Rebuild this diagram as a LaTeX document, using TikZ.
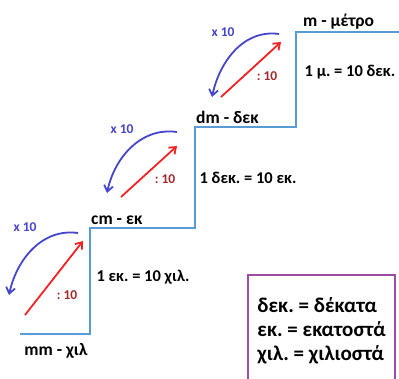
\documentclass[tikz,border=0pt]{standalone}
\usepackage{fontspec}
\setmainfont{Carlito}
\usetikzlibrary{arrows.meta,positioning}
\definecolor{stairblue}{HTML}{5B9BD5}
\definecolor{arcblue}{HTML}{4646CC}
\definecolor{arrred}{HTML}{F42222}
\definecolor{numred}{HTML}{A3282C}
\definecolor{boxpurple}{HTML}{9A4DA3}
\frenchspacing

\begin{document}
\begin{tikzpicture}[x=1pt, y=1pt,
    stair/.style={draw=stairblue, line width=1.4pt},
    unit/.style={font=\fontsize{17.5}{19}\selectfont\bfseries, inner sep=1pt},
    rel/.style={font=\fontsize{16.5}{18}\selectfont\bfseries, inner sep=1pt},
    div/.style={-{Straight Barb[length=6pt,width=9pt]}, draw=arrred, line width=1.8pt},
    mul/.style={-{Straight Barb[length=6pt,width=9pt]}, draw=arcblue, line width=1.8pt},
    divlbl/.style={text=numred, font=\fontsize{13.5}{15}\selectfont\bfseries, inner sep=0pt},
    mullbl/.style={text=arcblue, font=\fontsize{13.5}{15}\selectfont\bfseries, inner sep=0pt},
    legend/.style={draw=boxpurple, line width=2pt, align=left, anchor=north west,
      minimum width=147pt, minimum height=112pt,
      font=\fontsize{21}{24}\selectfont\bfseries}
  ]
    \useasboundingbox (0,0) rectangle (399,378);
    % the steps
    \coordinate (s0) at (20,44);
    \coordinate (s1) at (90,44);
    \coordinate (s2) at (90,150);
    \coordinate (s3) at (195,150);
    \coordinate (s4) at (195,251);
    \coordinate (s5) at (296,251);
    \coordinate (s6) at (296,346);
    \coordinate (s7) at (401,346);
    \draw[stair] (s0) -- (s1) -- (s2) -- (s3) -- (s4) -- (s5) -- (s6) -- (s7);

    \node[unit] (mm) at (56,27) {mm - χιλ};
    \node[unit, above right=2pt and 0pt of s2] (cm) {cm - εκ};
    \node[unit, above right=2pt and 0pt of s4] (dm) {dm - δεκ};
    \node[unit, above right=2pt and 6pt of s6] (m) {m - μέτρο};

    \node[rel] (r1) at (143,101) {1 εκ. = 10 χιλ.};
    \node[rel] (r2) at (248,200) {1 δεκ. = 10 εκ.};
    \node[rel] (r3) at (350,306) {1 μ. = 10 δεκ.};

    % mm <-> cm
    \coordinate (d1a) at (25,63);  \coordinate (d1b) at (83,137);
    \coordinate (m1a) at (78,145); \coordinate (m1b) at (9,83);
    \draw[div] (d1a) -- (d1b);
    \draw[mul] (m1a) to[out=172, in=78] (m1b);
    \node[divlbl] (q1) at (67,83) {: 10};
    \node[mullbl] (x1) at (25,151) {x 10};

    % cm <-> dm
    \coordinate (d2a) at (121,181); \coordinate (d2b) at (177,232);
    \coordinate (m2a) at (177,246); \coordinate (m2b) at (107,185);
    \draw[div] (d2a) -- (d2b);
    \draw[mul] (m2a) to[out=172, in=78] (m2b);
    \node[divlbl] (q2) at (165,199) {: 10};
    \node[mullbl] (x2) at (122,249) {x 10};

    % dm <-> m
    \coordinate (d3a) at (221,281); \coordinate (d3b) at (281,336);
    \coordinate (m3a) at (279,344); \coordinate (m3b) at (212,281);
    \draw[div] (d3a) -- (d3b);
    \draw[mul] (m3a) to[out=172, in=78] (m3b);
    \node[divlbl] (q3) at (267,302) {: 10};
    \node[mullbl] (x3) at (223,346) {x 10};

    \node[legend] (key) at (247,104) {δεκ. = δέκατα\\εκ. = εκατοστά\\χιλ. = χιλιοστά};
\end{tikzpicture}
\end{document}
